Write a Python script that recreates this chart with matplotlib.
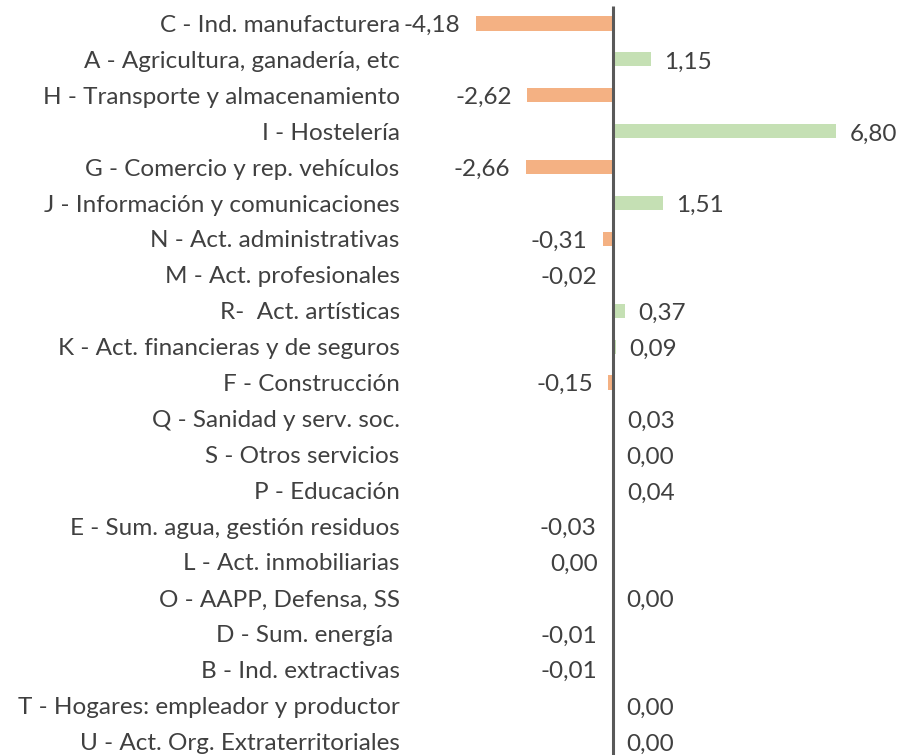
import matplotlib
matplotlib.use("Agg")
import matplotlib.pyplot as plt

categories = [
    "C - Ind. manufacturera",
    "A - Agricultura, ganadería, etc",
    "H - Transporte y almacenamiento",
    "I - Hostelería",
    "G - Comercio y rep. vehículos",
    "J - Información y comunicaciones",
    "N - Act. administrativas",
    "M - Act. profesionales",
    "R-  Act. artísticas",
    "K - Act. financieras y de seguros",
    "F - Construcción",
    "Q - Sanidad y serv. soc.",
    "S - Otros servicios",
    "P - Educación",
    "E - Sum. agua, gestión residuos",
    "L - Act. inmobiliarias",
    "O - AAPP, Defensa, SS",
    "D - Sum. energía ",
    "B - Ind. extractivas",
    "T - Hogares: empleador y productor",
    "U - Act. Org. Extraterritoriales",
]
values = [-4.18, 1.15, -2.62, 6.80, -2.66, 1.51, -0.31, -0.02, 0.37, 0.09,
          -0.15, 0.03, 0.001, 0.04, -0.03, -0.004, 0.001, -0.01, -0.01, 0.001, 0.001]

NEG = "#F4B183"
POS = "#C5E0B4"
TXT = "#404040"
FONT = "Lato"
FS = 17.5

fig = plt.figure(figsize=(8.99, 7.55), dpi=100)
W, H = 899, 755
zero_px = 613
ppu = 32.85
left_px = 408
ax = fig.add_axes([left_px / W, 0, 1 - left_px / W, 1])
ax.set_xlim((left_px - zero_px) / ppu, (W - zero_px) / ppu)
row0, step = 23.5, 35.9
ax.set_ylim((H - row0) / step, -row0 / step)

ypos = list(range(len(categories)))
colors = [NEG if v < 0 else POS for v in values]
ax.barh(ypos, values, height=0.39, color=colors, zorder=2)
ax.vlines(0, -0.5, len(categories) - 0.5, color="#595959", lw=2.2, zorder=3)

for y, v in zip(ypos, values):
    s = f"{abs(v):.2f}".replace(".", ",")
    if round(v, 2) < 0:
        s = "-" + s
    if v < 0:
        ax.annotate(s, (v, y), xytext=(-11, -1.5), textcoords="offset points",
                    ha="right", va="center", fontsize=FS, color=TXT, family=FONT)
    else:
        ax.annotate(s, (v, y), xytext=(9.5, -2), textcoords="offset points",
                    ha="left", va="center", fontsize=FS, color=TXT, family=FONT)

ax.set_yticks(ypos)
ax.set_yticklabels(categories, fontsize=FS, color=TXT, family=FONT)
ax.tick_params(axis="y", length=0, pad=6)
ax.set_xticks([])
for sp in ax.spines.values():
    sp.set_visible(False)

fig.savefig("out.png", dpi=100)
